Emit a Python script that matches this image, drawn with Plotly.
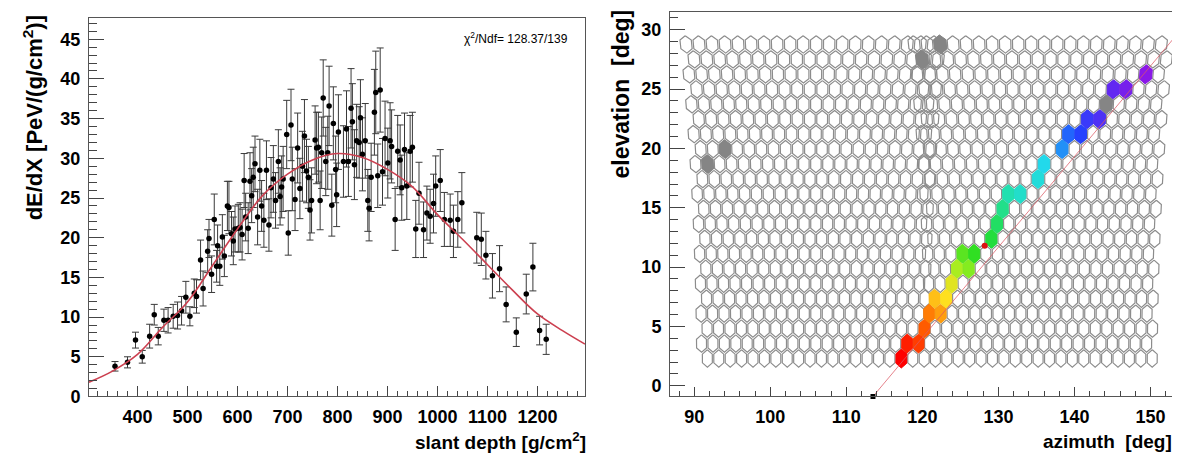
import numpy as np
import plotly.graph_objects as go
from plotly.colors import sample_colorscale

# ---------------- Left panel data: energy deposit profile ----------------
depth = [355, 380, 396, 409.5, 424.3, 433.5, 441.5, 452.8, 461.2, 471.4, 480.1, 488.1, 496.7, 504.8,
         513.5, 518, 526.1, 531.2, 540.3, 543, 548.2, 553.5, 558.2, 560.2, 564.6, 569.7, 573.7,
         579.8, 582.9, 588, 591.6, 595, 601.6, 605.2, 609.2, 613.3, 616.3, 621.4, 625, 628.3,
         631.5, 635, 640.2, 644.7, 648.2, 652.8, 657.9, 662.9, 667, 671.7, 676.1, 681.7, 685.2,
         688.3, 691.3, 698.4, 701.5, 707, 709.6, 715.1, 720.3, 724.8, 729.8, 733.9, 738, 741.7,
         745, 748.1, 755.2, 758.2, 761.8, 765.3, 768.4, 771.4, 776.5, 780.5, 783.2, 788.6, 791.7,
         796.3, 798.3, 801.8, 811.9, 818, 821.8, 827.1, 829.8, 833.8, 838.3, 843.4, 845.9, 849.9,
         855.5, 860.6, 863.2, 867.3, 873.8, 876.5, 880.5, 885.4, 890, 895.1, 900.6, 905.2, 908.2,
         915.3, 920.4, 925.3, 928.5, 934, 938.6, 945.3, 949.8, 956.5, 963, 972.1, 978.8, 985.3,
         992, 996.4, 1005.5, 1013.7, 1025.4, 1031.9, 1040.6, 1048.7, 1078.5, 1087.6, 1096.8,
         1109.9, 1124.1, 1137.3, 1157.6, 1177.5, 1190.8, 1204.2, 1217.4]
dedx = [3.8, 4.3, 7.1, 5.0, 7.6, 10.3, 7.6, 9.6, 9.6, 10.1, 10.2, 10.8, 12.5, 10.1,
        13.0, 12.6, 17.2, 13.6, 18.3, 19.9, 15.4, 22.3, 16.4, 19.0, 16.4, 20.1, 17.7,
        24.0, 23.8, 20.5, 19.6, 21.1, 21.2, 21.3, 20.4, 27.2, 22.6, 21.2, 27.1, 25.3,
        27.6, 29.3, 22.6, 28.5, 24.0, 22.2, 28.5, 21.6, 26.3, 27.4, 24.7, 29.6, 25.2,
        26.4, 27.4, 33.0, 20.6, 34.2, 27.4, 24.8, 31.3, 26.2, 29.0, 32.8, 28.4, 27.6,
        23.5, 24.7, 32.3, 31.3, 31.4, 24.7, 30.7, 37.6, 29.6, 30.7, 36.6, 24.1, 34.4,
        28.6, 25.4, 33.3, 29.6, 33.7, 29.6, 36.3, 34.6, 29.2, 32.2, 32.0, 35.1, 30.5,
        32.2, 24.7, 23.7, 27.6, 35.8, 38.3, 27.8, 38.6, 28.3, 32.5, 29.4, 32.2, 31.5,
        22.3, 30.9, 29.8, 26.3, 31.1, 26.5, 30.9, 31.4, 21.1, 25.6, 21.0, 23.1, 22.7,
        24.3, 26.5, 27.2, 22.3, 22.2, 20.8, 22.3, 24.4, 20.0, 19.8, 17.8,
        15.2, 16.1, 11.6, 8.1, 12.9, 16.3, 8.3, 7.2]
dedx_err = [0.6, 0.7, 1.0, 0.8, 1.5, 1.3, 1.1, 1.4, 1.6, 1.5, 1.7, 1.8, 2.0, 1.2,
            1.8, 2.1, 2.5, 2.2, 2.7, 2.4, 2.3, 3.2, 2.0, 2.6, 2.4, 2.8, 2.6,
            3.1, 3.3, 2.8, 3.0, 2.9, 3.0, 3.1, 3.2, 3.4, 3.0, 3.2, 3.6, 3.4,
            3.8, 3.5, 3.5, 3.9, 3.2, 3.4, 3.7, 3.3, 3.8, 4.2, 3.5, 4.0, 3.6,
            3.9, 4.1, 4.3, 2.8, 4.5, 4.0, 3.9, 4.4, 3.8, 4.4, 4.6, 4.0, 3.9,
            3.8, 4.1, 4.3, 4.5, 4.4, 3.7, 4.5, 4.8, 4.3, 4.6, 5.0, 3.9, 4.6,
            4.2, 4.0, 4.7, 4.5, 4.8, 4.4, 5.0, 4.8, 4.4, 4.6, 4.5, 4.8, 4.6,
            4.7, 3.9, 4.1, 4.3, 5.4, 5.2, 4.0, 5.3, 4.2, 4.7, 4.4, 4.8, 4.6,
            3.9, 4.5, 4.4, 4.1, 4.6, 4.2, 4.5, 4.4, 3.6, 3.9, 3.5, 3.4, 3.4,
            3.7, 3.8, 3.9, 3.4, 3.3, 3.3, 3.5, 3.8, 3.2, 3.3, 3.0,
            2.8, 2.9, 2.2, 1.8, 2.5, 3.0, 1.8, 1.9]

fit_depth = [303, 350, 400, 450, 500, 550, 600, 650, 700, 750, 800, 850, 900, 950, 1000,
             1050, 1100, 1150, 1200, 1250, 1295]
fit_dedx = [1.8, 3.2, 5.3, 8.7, 11.9, 16.5, 21.1, 25.3, 28.0, 29.8, 30.6, 30.1, 28.6, 26.4,
            22.9, 19.8, 16.6, 13.4, 10.4, 8.3, 6.6]

depth_ticks = [400, 500, 600, 700, 800, 900, 1000, 1100, 1200]
dedx_ticks = [0, 5, 10, 15, 20, 25, 30, 35, 40, 45]

# ---------------- Right panel data: camera event display ----------------
cam_az = [105.6, 135.6]                          # two adjacent telescope cameras
row_el = [2.3 + 1.26 * r for r in range(22)]     # pixel-row elevations
n_cols = 20

# triggered pixels along the track (approx. az, el), in time order
hit_az = [117.4, 118.1, 119.4, 120.5, 121.1, 122.1, 121.0, 122.5, 123.5, 124.4, 124.0, 125.4,
          126.0, 126.9, 129.3, 130.0, 131.3, 131.9, 133.2, 134.8, 135.9, 136.5, 137.9, 139.2,
          140.2, 141.3, 142.5, 145.5, 147.3, 149.6]
hit_el = [2.4, 3.5, 3.5, 4.8, 6.0, 6.0, 7.3, 7.3, 8.5, 8.7, 10.0, 10.1,
          11.2, 11.8, 13.0, 14.1, 14.5, 15.7, 16.2, 17.1, 18.2, 19.0, 19.9, 20.7,
          21.7, 22.1, 22.9, 24.6, 25.4, 26.5]
noise_az = [91.5, 93.8, 119.8, 122.3, 143.5]     # isolated (grey) pixels
noise_el = [18.8, 20.1, 27.4, 28.9, 23.6]

track_az = [113.5, 153.1]
track_el = [-0.9, 29.3]
station_az = [113.5]
station_el = [-0.9]
core_az = [128.2]
core_el = [11.8]

az_ticks = [90, 100, 110, 120, 130, 140, 150]
el_ticks = [0, 5, 10, 15, 20, 25, 30]

# ---------------- geometry helpers ----------------
W = 0.75
R = 0.84
S = 0.87
DU = [0, W, W, 0, -W, -W, 0]
DV = [R, R / 2, -R / 2, -R, -R / 2, R / 2, R]

cells = []
for a0 in cam_az:
    for r, el in enumerate(row_el):
        off = 0.375 if r % 2 == 0 else -0.375
        for c in range(n_cols):
            u = (c - (n_cols - 1) / 2) * 1.5 + off
            cells.append((a0, u, el))


def cell_center(cell):
    a0, u, el = cell
    return a0 + u / np.cos(np.radians(el)), el


def hex_path(cell, scale=S):
    a0, u, el = cell
    xs, ys = [], []
    for du, dv in zip(DU, DV):
        e = el + scale * dv
        xs.append(a0 + (u + scale * du) / np.cos(np.radians(e)))
        ys.append(e)
    return xs, ys


centers = np.array([cell_center(c) for c in cells])


def nearest_cell(az, el):
    d = ((centers[:, 0] - az) / 1.5) ** 2 + ((centers[:, 1] - el) / 1.26) ** 2
    return int(np.argmin(d))


fig = go.Figure()

# ---------------- left panel ----------------
fig.add_trace(go.Scatter(
    x=depth, y=dedx, mode="markers",
    marker=dict(color="black", size=5.5),
    error_y=dict(type="data", array=dedx_err, color="#3a3a3a", thickness=1, width=3.5),
    xaxis="x", yaxis="y", hoverinfo="skip"))
fig.add_trace(go.Scatter(
    x=fit_depth, y=fit_dedx, mode="lines", line=dict(color="#cc4050", width=1.6, shape="spline"),
    xaxis="x", yaxis="y", hoverinfo="skip"))

# ---------------- right panel ----------------
ox, oy = [], []
for c in cells:
    xs, ys = hex_path(c)
    ox += xs + [None]
    oy += ys + [None]
fig.add_trace(go.Scatter(x=ox, y=oy, mode="lines", line=dict(color="#8c8c8c", width=1.2),
                         xaxis="x2", yaxis="y2", hoverinfo="skip"))

for az, el in zip(noise_az, noise_el):
    xs, ys = hex_path(cells[nearest_cell(az, el)], 0.95)
    fig.add_trace(go.Scatter(x=xs, y=ys, mode="lines", fill="toself", fillcolor="#858585",
                             line=dict(color="#858585", width=1), xaxis="x2", yaxis="y2",
                             hoverinfo="skip"))

rainbow = [[0.0, "#ff0000"], [0.12, "#ff6a00"], [0.24, "#ffe020"], [0.36, "#9cef20"],
           [0.46, "#22dd22"], [0.6, "#22e0c0"], [0.7, "#22d8f0"], [0.82, "#2244ff"],
           [1.0, "#8a18e8"]]
seen = set()
n = len(hit_az)
for i, (az, el) in enumerate(zip(hit_az, hit_el)):
    k = nearest_cell(az, el)
    if k in seen:
        continue
    seen.add(k)
    col = sample_colorscale(rainbow, [i / (n - 1)])[0]
    xs, ys = hex_path(cells[k], 0.95)
    fig.add_trace(go.Scatter(x=xs, y=ys, mode="lines", fill="toself", fillcolor=col,
                             line=dict(color=col, width=1), xaxis="x2", yaxis="y2",
                             hoverinfo="skip"))

fig.add_trace(go.Scatter(x=track_az, y=track_el, mode="lines",
                         line=dict(color="rgba(220,90,100,0.75)", width=1),
                         xaxis="x2", yaxis="y2", hoverinfo="skip"))
fig.add_trace(go.Scatter(x=core_az, y=core_el, mode="markers",
                         marker=dict(color="#dd1111", size=6),
                         xaxis="x2", yaxis="y2", hoverinfo="skip"))
fig.add_trace(go.Scatter(x=station_az, y=station_el, mode="markers",
                         marker=dict(color="black", size=5, symbol="square"),
                         xaxis="x2", yaxis="y2", hoverinfo="skip", cliponaxis=False))

# ---------------- layout ----------------
FW, FH = 1180, 466
tickfont = dict(family="Liberation Sans", size=18, color="black", weight="bold")


def ax(**kw):
    base = dict(showline=True, linecolor="#555", linewidth=1, mirror=True, ticks="inside",
                tickcolor="#444", showgrid=False, zeroline=False, tickfont=tickfont,
                fixedrange=True)
    base.update(kw)
    return base


fig.update_layout(
    width=FW, height=FH, margin=dict(l=0, r=0, t=0, b=0),
    paper_bgcolor="white", plot_bgcolor="white", showlegend=False,
    xaxis=ax(domain=[81 / FW, 577 / FW], range=[303, 1295], tickvals=depth_ticks,
             ticklen=10, minor=dict(dtick=20, ticklen=5, ticks="inside", tickcolor="#444"),
             anchor="y", ticklabelstandoff=4),
    yaxis=ax(domain=[(FH - 397) / FH, (FH - 10) / FH], range=[0, 47.7], tickvals=dedx_ticks,
             ticklen=15, minor=dict(dtick=1, ticklen=8, ticks="inside", tickcolor="#444"),
             anchor="x", ticklabelstandoff=4),
    xaxis2=ax(domain=[662 / FW, 1166 / FW], range=[86.8, 153.1], tickvals=az_ticks,
              ticklen=9, minor=dict(dtick=2, ticklen=5, ticks="inside", tickcolor="#444"),
              anchor="y2", ticklabelstandoff=4),
    yaxis2=ax(domain=[(FH - 397) / FH, (FH - 4) / FH], range=[-0.9, 31.5], tickvals=el_ticks,
              ticklen=15, minor=dict(dtick=1, ticklen=8, ticks="inside", tickcolor="#444"),
              anchor="x2", ticklabelstandoff=4),
)

titlefont = dict(family="Liberation Sans", size=19, color="black", weight="bold")
vtitlefont = dict(family="Liberation Sans", size=22, color="black", weight="bold")
fig.add_annotation(text="slant depth [g/cm<sup>2</sup>]", x=580 / FW, y=1 - 443 / FH,
                   xref="paper", yref="paper", xanchor="right", yanchor="middle",
                   showarrow=False, font=titlefont)
fig.add_annotation(text="azimuth  [deg]", x=1166 / FW, y=1 - 443 / FH,
                   xref="paper", yref="paper", xanchor="right", yanchor="middle",
                   showarrow=False, font=titlefont)
fig.add_annotation(text="dE/dX [PeV/(g/cm<sup>2</sup>)]", x=25 / FW, y=1 - 6 / FH,
                   xref="paper", yref="paper", xanchor="center", yanchor="top",
                   textangle=-90, showarrow=False, font=vtitlefont)
fig.add_annotation(text="elevation  [deg]", x=612 / FW, y=1 - 0 / FH,
                   xref="paper", yref="paper", xanchor="center", yanchor="top",
                   textangle=-90, showarrow=False,
                   font=dict(family="Liberation Sans", size=23, color="black", weight="bold"))
fig.add_annotation(text="χ<sup>2</sup>/Ndf= 128.37/139", x=562 / FW, y=1 - 31 / FH,
                   xref="paper", yref="paper", xanchor="right", yanchor="middle",
                   showarrow=False,
                   font=dict(family="Liberation Sans", size=12, color="black"))

fig.write_html("out.html")
